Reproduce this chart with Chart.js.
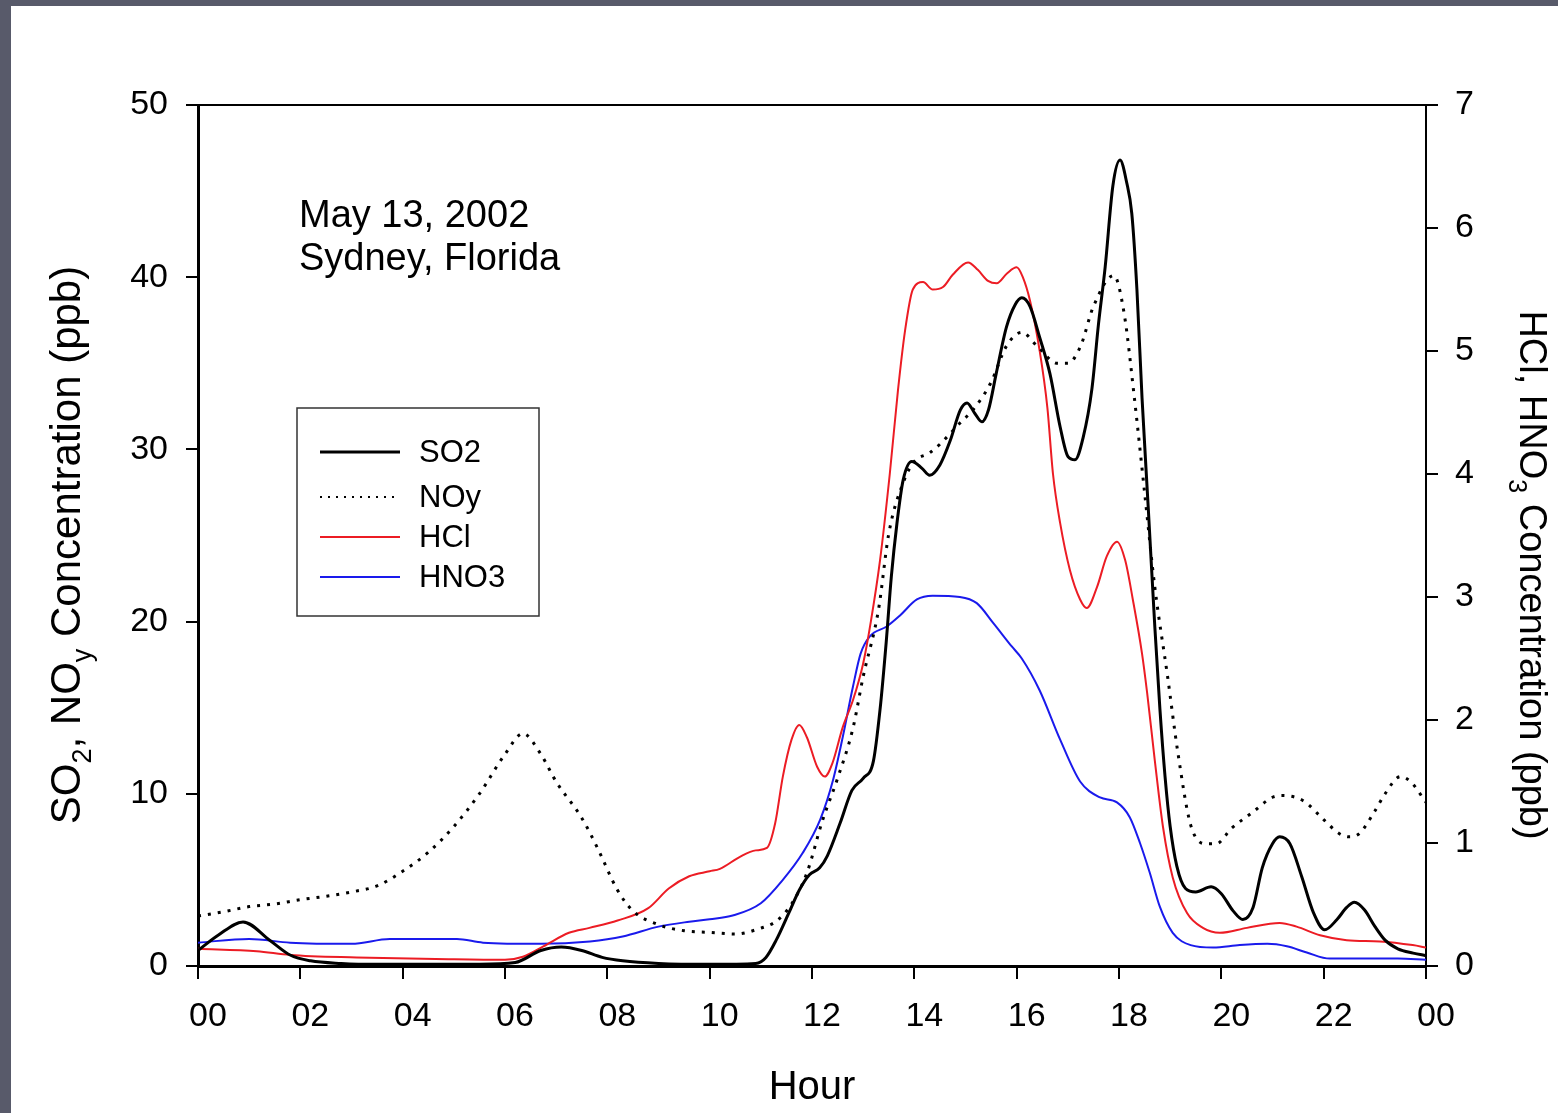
<!DOCTYPE html>
<html>
<head>
<meta charset="utf-8">
<title>SO2, NOy, HCl, HNO3 - May 13, 2002</title>
<script src="https://cdn.jsdelivr.net/npm/chart.js@4.4.1/dist/chart.umd.min.js"></script>
<style>
  html, body { margin: 0; padding: 0; width: 1558px; height: 1113px; overflow: hidden; background: #585a6a; }
  #wrap { position: absolute; left: 11px; top: 6px; width: 1547px; height: 1107px; background: #fff; }
</style>
</head>
<body>
<div id="wrap"><canvas id="chart" width="1547" height="1107"></canvas></div>
<script>
const FONT = '"Liberation Sans", Arial, Helvetica, sans-serif';

// SO2 (ppb, left axis)
const so2Hours = [0, 0.4, 0.88, 1.4, 1.8, 2.2, 2.8, 3.5, 4.5, 5.5, 6.2, 6.7, 7.1, 7.5, 7.9, 8.3, 9, 10, 10.9,
  11.1, 11.3, 11.55, 11.75, 11.95, 12.15, 12.3, 12.55, 12.78, 13.0, 13.2, 13.33, 13.45, 13.55, 13.66, 13.78,
  13.95, 14.15, 14.3, 14.5, 14.7, 14.9, 15.03, 15.18, 15.32, 15.45, 15.6, 15.8, 15.97, 16.1, 16.26, 16.45,
  16.65, 16.85, 17.0, 17.14, 17.3, 17.47, 17.6, 17.73, 17.88, 18.02, 18.15, 18.25, 18.35, 18.45, 18.57,
  18.7, 18.8, 18.9, 19.0, 19.13, 19.3, 19.5, 19.8, 20.0, 20.23, 20.42, 20.62, 20.8, 21.0, 21.14, 21.34,
  21.57, 21.8, 22.02, 22.26, 22.45, 22.6, 22.8, 23.0, 23.2, 23.45, 23.75, 24];
const so2Values = [0.9, 1.8, 2.56, 1.5, 0.64, 0.3, 0.15, 0.1, 0.1, 0.1, 0.2, 0.9, 1.1, 0.9, 0.5, 0.3, 0.15, 0.1, 0.15,
  0.5, 1.5, 3.1, 4.4, 5.3, 5.7, 6.4, 8.3, 10.2, 10.9, 11.9, 14.9, 18.8, 22.6, 25.7, 28.2,
  29.3, 28.9, 28.5, 29.1, 30.5, 32.3, 32.7, 32.1, 31.6, 32.3, 34.4, 37.1, 38.4, 38.8, 38.3, 36.5,
  34.4, 31.3, 29.6, 29.4, 30.7, 33.5, 37.3, 40.6, 45.3, 46.8, 45.5, 43.7, 39.3, 33, 26.7,
  19.7, 14.9, 11.0, 8.1, 5.8, 4.5, 4.3, 4.6, 4.2, 3.2, 2.7, 3.4, 5.7, 7.1, 7.5, 7.1,
  5.2, 3.1, 2.1, 2.7, 3.4, 3.7, 3.25, 2.3, 1.5, 1.0, 0.75, 0.6];

// NOy (ppb, left axis)
const noyHours = [0, 0.5, 1, 1.5, 2, 2.5, 3, 3.5, 4, 4.5, 5, 5.5, 6, 6.35, 6.7, 7, 7.5, 7.8, 8.2, 8.5, 9, 9.5,
  10, 10.5, 11, 11.3, 11.6, 11.9, 12.2, 12.5, 12.8, 13, 13.3, 13.5, 13.8, 14, 14.3, 14.5, 14.85, 15.2,
  15.5, 15.8, 16.1, 16.4, 16.8, 17.0, 17.25, 17.5, 17.9, 18.1, 18.3, 18.5, 18.7, 18.95, 19.15, 19.4,
  19.7, 19.9, 20.2, 20.6, 21.0, 21.2, 21.6, 22.0, 22.3, 22.5, 22.7, 23.0, 23.2, 23.5, 23.7, 24];
const noyValues = [2.9, 3.15, 3.45, 3.6, 3.85, 4.05, 4.3, 4.65, 5.5, 6.6, 8.1, 10.0, 12.3, 13.5, 12.3, 10.7, 8.6, 6.9, 4.4, 3.2, 2.4, 2.05,
  1.95, 1.86, 2.2, 2.6, 3.6, 5.4, 8.4, 10.9, 13.8, 16.8, 20.7, 25.1, 28.2, 29.3, 29.8, 30.3, 31.4, 32.5,
  33.9, 36.0, 36.8, 36.0, 35.0, 35.0, 36.0, 38.3, 40.1, 37.9, 33, 27.5, 22, 16.8, 12.4, 8.2,
  7.1, 7.1, 8.0, 8.9, 9.8, 9.9, 9.6, 8.5, 7.7, 7.5, 7.7, 9.0, 10.0, 11.0, 10.7, 9.5];

// HCl (ppb, right axis)
const hclHours = [0, 1.15, 1.8, 3.1, 4.9, 6.0, 6.35, 6.75, 7.25, 7.65, 8.2, 8.8, 9.2, 9.6, 10.0, 10.2, 10.6,
  10.9, 11.12, 11.28, 11.43, 11.6, 11.75, 11.9, 12.1, 12.25, 12.4, 12.6, 12.8, 13.0, 13.15, 13.33, 13.52,
  13.68, 13.82, 13.97, 14.17, 14.36, 14.56, 14.75, 15.05, 15.24, 15.44, 15.61, 15.81, 16.0, 16.12, 16.26,
  16.45, 16.6, 16.71, 16.85, 17.04, 17.24, 17.37, 17.57, 17.76, 17.96, 18.12, 18.27, 18.45, 18.55, 18.7,
  18.86, 19.05, 19.33, 19.64, 19.97, 20.5, 21.14, 21.47, 21.93, 22.45, 23.1, 23.74, 24];
const hclValues = [0.14, 0.12, 0.09, 0.07, 0.055, 0.05, 0.075, 0.16, 0.27, 0.31, 0.37, 0.47, 0.63, 0.73, 0.77, 0.79, 0.89,
  0.94, 0.96, 1.16, 1.54, 1.84, 1.96, 1.86, 1.62, 1.54, 1.65, 1.94, 2.16, 2.46, 2.8, 3.3, 4.0,
  4.68, 5.17, 5.5, 5.56, 5.5, 5.52, 5.62, 5.72, 5.66, 5.57, 5.55, 5.63, 5.68, 5.6, 5.41,
  5.0, 4.54, 4.0, 3.6, 3.22, 2.98, 2.91, 3.08, 3.33, 3.45, 3.3, 2.98, 2.54, 2.22, 1.67,
  1.13, 0.72, 0.43, 0.31, 0.27, 0.31, 0.35, 0.32, 0.25, 0.21, 0.2, 0.17, 0.15];

// HNO3 (ppb, right axis)
const hno3Hours = [0, 1.0, 1.8, 3.0, 3.75, 5.06, 5.57, 6.7, 7.66, 8.3, 9.0, 9.6, 10.0, 10.45, 11.0, 11.43, 11.82,
  12.16, 12.41, 12.6, 12.8, 12.95, 13.13, 13.46, 13.72, 14.05, 14.36, 14.89, 15.22, 15.54, 15.9, 16.1,
  16.45, 16.85, 17.24, 17.63, 17.96, 18.21, 18.41, 18.6, 18.8, 19.05, 19.4, 19.84, 20.36, 20.9, 21.28,
  21.67, 22.12, 22.8, 23.45, 24];
const hno3Values = [0.19, 0.22, 0.19, 0.18, 0.22, 0.22, 0.19, 0.18, 0.2, 0.24, 0.32, 0.36, 0.38, 0.41, 0.51, 0.7, 0.92,
  1.19, 1.51, 1.86, 2.27, 2.54, 2.68, 2.76, 2.85, 2.98, 3.01, 3.0, 2.95, 2.79, 2.6, 2.5,
  2.24, 1.84, 1.5, 1.37, 1.33, 1.21, 1.0, 0.76, 0.48, 0.27, 0.17, 0.15, 0.17, 0.18, 0.16,
  0.11, 0.06, 0.06, 0.06, 0.05];

const leftTicks = [0, 10, 20, 30, 40, 50];
const rightTicks = [0, 1, 2, 3, 4, 5, 6, 7];
const hourTicks = [0, 2, 4, 6, 8, 10, 12, 14, 16, 18, 20, 22, 24];
const noteLines = ['May 13, 2002', 'Sydney, Florida'];

function toPoints(xs, ys) {
  return xs.map((x, i) => ({ x: x, y: ys[i] }));
}

// draws text with subscript parts, centred on the current origin
function drawRich(ctx, parts, size, subSize, subShift) {
  let total = 0;
  parts.forEach(p => {
    ctx.font = (p.sub ? subSize : size) + 'px ' + FONT;
    total += ctx.measureText(p.t).width;
  });
  let x = -total / 2;
  ctx.textAlign = 'left';
  ctx.textBaseline = 'alphabetic';
  parts.forEach(p => {
    ctx.font = (p.sub ? subSize : size) + 'px ' + FONT;
    ctx.fillText(p.t, x, p.sub ? subShift : 0);
    x += ctx.measureText(p.t).width;
  });
}

const decor = {
  id: 'decor',
  afterDraw(chart) {
    const ctx = chart.ctx;
    const a = chart.chartArea;
    ctx.save();
    ctx.fillStyle = '#000';

    // top frame line
    ctx.strokeStyle = '#000';
    ctx.lineWidth = 2;
    ctx.beginPath();
    ctx.moveTo(a.left, a.top);
    ctx.lineTo(a.right, a.top);
    ctx.stroke();

    // note
    ctx.font = '38px ' + FONT;
    ctx.textAlign = 'left';
    ctx.textBaseline = 'alphabetic';
    noteLines.forEach((t, i) => ctx.fillText(t, a.left + 101, a.top + 122 + i * 43));

    // legend
    const bx = a.left + 99, by = a.top + 303;
    ctx.lineWidth = 1.5;
    ctx.strokeStyle = '#333';
    ctx.strokeRect(bx, by, 242, 208);
    const rows = [44, 89, 129, 169];
    chart.data.datasets.forEach((ds, i) => {
      const y = by + rows[i];
      ctx.save();
      ctx.strokeStyle = ds.borderColor;
      ctx.lineWidth = ds.borderDash ? 2 : ds.borderWidth;
      ctx.setLineDash(ds.borderDash ? [2, 6] : []);
      ctx.beginPath();
      ctx.moveTo(bx + 23, y);
      ctx.lineTo(bx + 103, y);
      ctx.stroke();
      ctx.restore();
      ctx.font = '31px ' + FONT;
      ctx.textBaseline = 'middle';
      ctx.fillText(ds.label, bx + 122, y + 1);
    });

    // axis titles
    ctx.save();
    ctx.translate(a.left - 118, 539);
    ctx.rotate(-Math.PI / 2);
    drawRich(ctx, [{ t: 'SO' }, { t: '2', sub: true }, { t: ', NO' }, { t: 'y', sub: true }, { t: ' Concentration (ppb)' }], 42, 27, 11);
    ctx.restore();

    ctx.save();
    ctx.translate(a.right + 94, 569);
    ctx.rotate(Math.PI / 2);
    drawRich(ctx, [{ t: 'HCl, HNO' }, { t: '3', sub: true }, { t: ' Concentration (ppb)' }], 38, 25, 11);
    ctx.restore();

    ctx.font = '40px ' + FONT;
    ctx.textAlign = 'center';
    ctx.textBaseline = 'alphabetic';
    ctx.fillText('Hour', (a.left + a.right) / 2, a.bottom + 133);
    ctx.restore();
  }
};

const tickFont = { size: 34, family: FONT };

new Chart(document.getElementById('chart'), {
  type: 'line',
  data: {
    datasets: [
      { label: 'SO2', data: toPoints(so2Hours, so2Values), yAxisID: 'y', borderColor: '#000', borderWidth: 3 },
      { label: 'NOy', data: toPoints(noyHours, noyValues), yAxisID: 'y', borderColor: '#000', borderWidth: 3, borderDash: [3, 7] },
      { label: 'HCl', data: toPoints(hclHours, hclValues), yAxisID: 'y1', borderColor: '#ec1c24', borderWidth: 2 },
      { label: 'HNO3', data: toPoints(hno3Hours, hno3Values), yAxisID: 'y1', borderColor: '#1a1aec', borderWidth: 2 }
    ]
  },
  options: {
    responsive: false,
    animation: false,
    events: [],
    layout: { padding: { top: 99, left: 0, right: 0, bottom: 0 } },
    elements: {
      point: { radius: 0 },
      line: { cubicInterpolationMode: 'monotone', fill: false }
    },
    plugins: { legend: { display: false }, tooltip: { enabled: false } },
    scales: {
      x: {
        type: 'linear', min: 0, max: 24,
        afterBuildTicks: s => { s.ticks = hourTicks.map(v => ({ value: v })); },
        ticks: {
          callback: v => String(v % 24).padStart(2, '0'),
          font: tickFont, color: '#000', padding: 17, labelOffset: 10, maxRotation: 0, autoSkip: false
        },
        grid: { drawOnChartArea: false, tickLength: 13, color: '#000', lineWidth: 2 },
        border: { color: '#000', width: 3 },
        afterFit: s => { s.height = 147; }
      },
      y: {
        position: 'left', min: 0, max: 50,
        afterBuildTicks: s => { s.ticks = leftTicks.map(v => ({ value: v })); },
        ticks: { font: tickFont, color: '#000', padding: 18 },
        grid: { drawOnChartArea: false, tickLength: 12, color: '#000', lineWidth: 2 },
        border: { color: '#000', width: 3 },
        afterFit: s => { s.width = 187; }
      },
      y1: {
        position: 'right', min: 0, max: 7,
        afterBuildTicks: s => { s.ticks = rightTicks.map(v => ({ value: v })); },
        ticks: { font: tickFont, color: '#000', padding: 17 },
        grid: { drawOnChartArea: false, tickLength: 12, color: '#000', lineWidth: 2 },
        border: { color: '#000', width: 2 },
        afterFit: s => { s.width = 132; }
      }
    }
  },
  plugins: [decor]
});
</script>
</body>
</html>
